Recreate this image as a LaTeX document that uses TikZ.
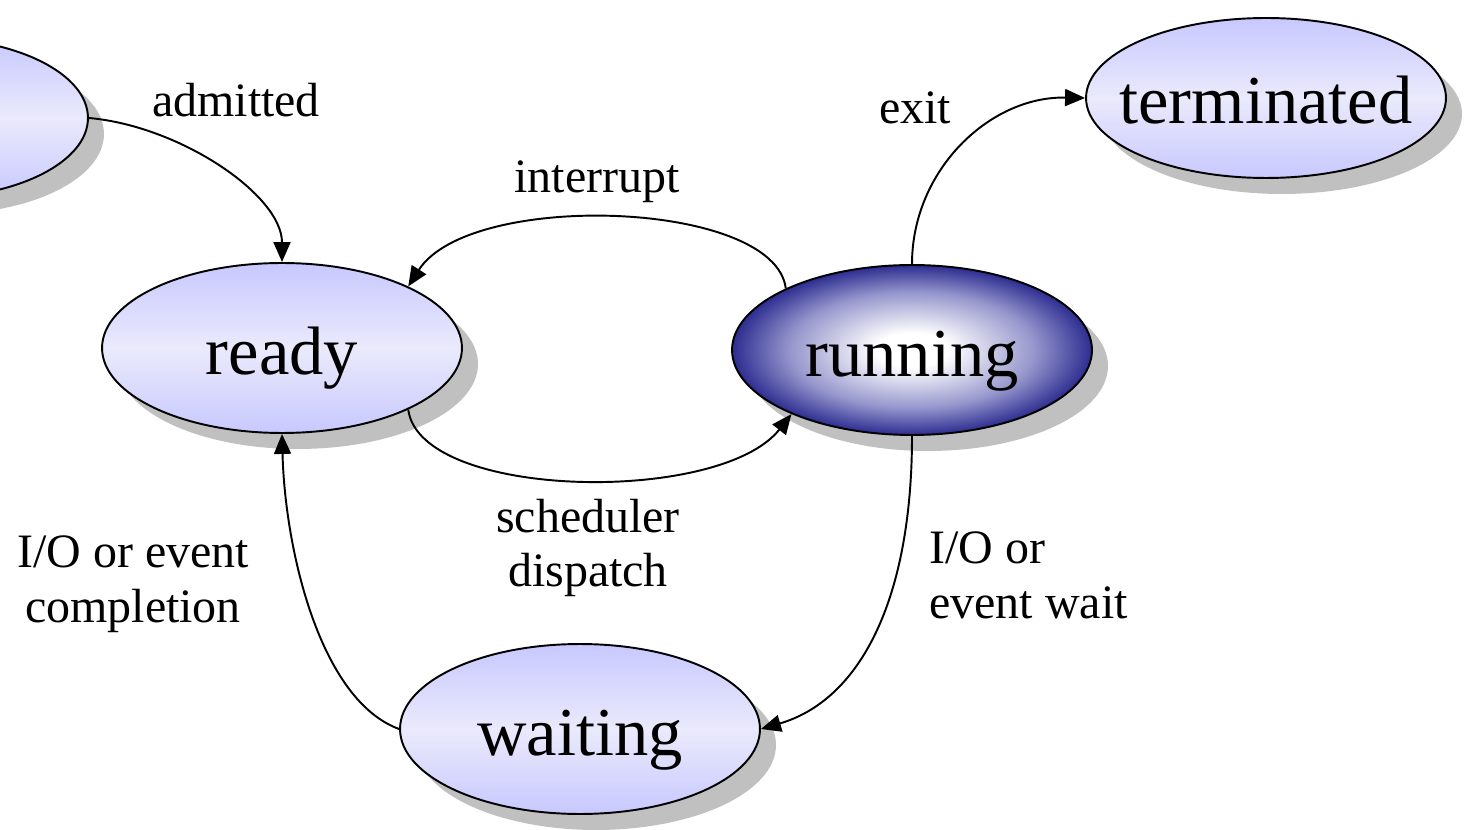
\documentclass[tikz,border=0pt]{standalone}
\usepackage{fontspec}
\setmainfont{Liberation Serif}
\usetikzlibrary{shapes.geometric,arrows.meta,shadows}
\definecolor{lav}{RGB}{200,200,255}
\definecolor{lavlight}{RGB}{234,234,252}
\definecolor{rundark}{RGB}{45,45,145}
\definecolor{runmid}{RGB}{150,150,205}
\definecolor{shadowgray}{RGB}{192,192,192}
\pgfdeclareradialshading{runshade}{\pgfpoint{0bp}{0bp}}{color(0bp)=(white); color(5bp)=(white); color(17bp)=(runmid); color(25bp)=(rundark); color(50bp)=(rundark)}
\tikzset{
  basestate/.style={ellipse, draw=black, line width=1.1pt, minimum width=7.2cm, minimum height=3.4cm,
    inner sep=0pt, general shadow={fill=shadowgray, shadow xshift=0.32cm, shadow yshift=-0.32cm},
    font=\fontsize{39pt}{47pt}\selectfont, text height=29.6pt, text depth=0pt},
  lavstate/.style={basestate, top color=lav, bottom color=lav, middle color=lavlight},
  runstate/.style={basestate, shade, shading=runshade},
  lbl/.style={font=\fontsize{27.3pt}{31.2pt}\selectfont, inner sep=0pt},
  conn/.style={line width=1.1pt, -{Triangle[length=0.4cm,width=0.34cm]}}
}
\begin{document}
\begin{tikzpicture}[x=0.02cm,y=-0.02cm]
\fill[white] (0,0) rectangle (1466,830);
\useasboundingbox (0,0) rectangle (1466,830);
% states
\node[lavstate, minimum width=6.4cm, minimum height=3.2cm] (new) at (-72,118) {};
\node[lavstate] (ready) at (282,348) {\makebox[0pt]{ready}};
\node[runstate] (running) at (912,350) {\makebox[0pt]{running}};
\node[lavstate, minimum height=3.2cm] (terminated) at (1266,98) {\makebox[0pt]{terminated}};
\node[lavstate] (waiting) at (580,729) {\makebox[0pt]{waiting}};
% connectors
\draw[conn] (new.east) .. controls (180,126) and (282,195) .. (ready.north);
\draw[conn] (running.154) .. controls (775,200) and (470,190) .. (ready.26);
\draw[conn] (ready.-26) .. controls (420,500) and (720,505) .. (running.208);
\draw[conn] (running.north) .. controls (912,170) and (990,96) .. (terminated.west);
\draw[conn] (running.south) .. controls (912,600) and (860,700) .. (waiting.east);
\draw[conn] (waiting.west) .. controls (320,700) and (285,550) .. (ready.south);
% labels
\node[lbl, anchor=base] (ladm) at (236,117) {admitted};
\node[lbl, anchor=base] (lint) at (597,193) {interrupt};
\node[lbl, anchor=base] (lexit) at (915,124) {exit};
\node[lbl, align=center] (lsched) at (588,548) {scheduler\\dispatch};
\node[lbl, align=center] (lcomp) at (133,584) {I/O or event\\completion};
\node[lbl, align=left, anchor=west] (lwait) at (929,575) {I/O or\\event wait};
\end{tikzpicture}
\end{document}
